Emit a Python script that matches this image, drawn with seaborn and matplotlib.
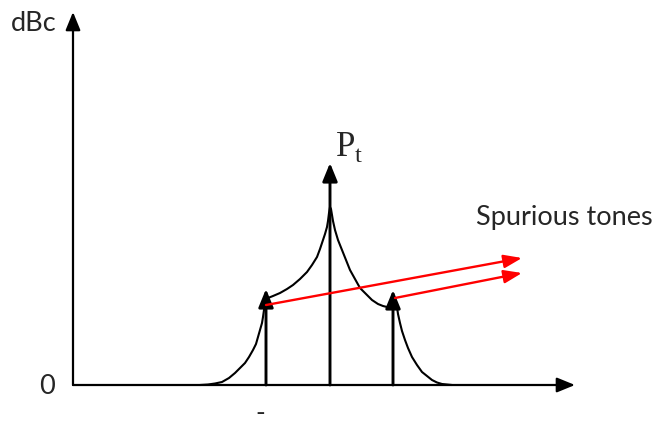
import matplotlib
matplotlib.use("Agg")
import matplotlib.pyplot as plt
import seaborn as sns
import pandas as pd

# schematic spectrum, x = frequency offset (arbitrary), h = level above 0 dBc (arbitrary)
curve_x = [127, 135, 142, 149, 156, 162, 167, 172, 176, 180, 183, 185, 187, 189, 190, 191, 192, 193,
           195, 200, 207, 214, 220, 227, 234, 239, 244, 247, 250, 252, 254, 255, 256, 257,
           258, 259, 260, 262, 265, 269, 273, 277, 282, 287, 293, 299, 305, 310, 314, 317, 320,
           322, 324, 325, 327, 329, 332, 335, 339, 344, 349, 354, 359, 364, 369, 379]
curve_h = [0, 0.5, 1.5, 3, 7, 12, 17, 22, 28, 35, 41, 48, 55, 62, 68, 75, 80, 84,
           87, 89, 92, 96, 100, 106, 113, 120, 128, 136, 145, 151, 158, 164, 172, 178,
           176, 170, 164, 155, 145, 135, 125, 115, 106, 97, 91, 85, 81, 79, 78, 77, 79,
           79, 78, 71, 62, 54, 45, 37, 28, 20, 13, 9, 5, 2.5, 1, 0]

tone_x = [193, 257, 320]
tone_h = [96, 222, 95]

spur_start_x = [193, 322]
spur_start_h = [80, 87]
spur_end_x = [449, 449]
spur_end_h = [127, 112]

x_axis_end = 502
y_axis_end = 373

sns.set_theme(style="white")
plt.rcParams['font.family'] = ['Lato', 'DejaVu Sans']

fig = plt.figure(figsize=(6.66, 4.25), dpi=100)
ax = fig.add_axes([0, 0, 1, 1])
ax.set_xlim(-73, 593)
ax.set_ylim(-40, 385)
ax.axis('off')

df = pd.DataFrame({'f': curve_x, 'level': curve_h})
sns.lineplot(data=df, x='f', y='level', sort=False, estimator=None,
             color='black', linewidth=1.5, ax=ax)

head = '-|>,head_length=1.1,head_width=0.45'

# axes arrows
ax.annotate('', xy=(x_axis_end, 0), xytext=(0, 0),
            arrowprops=dict(arrowstyle=head, mutation_scale=10, lw=1.6,
                            color='black', shrinkA=0, shrinkB=0))
ax.annotate('', xy=(0, y_axis_end), xytext=(0, 0),
            arrowprops=dict(arrowstyle=head, mutation_scale=10, lw=1.6,
                            color='black', shrinkA=0, shrinkB=0))

# tones
for tx, th in zip(tone_x, tone_h):
    ax.annotate('', xy=(tx, th), xytext=(tx, 0),
                arrowprops=dict(arrowstyle=head, mutation_scale=10, lw=2.1,
                                color='black', shrinkA=0, shrinkB=0))

# spurious pointers
for x0, h0, x1, h1 in zip(spur_start_x, spur_start_h, spur_end_x, spur_end_h):
    ax.annotate('', xy=(x1, h1), xytext=(x0, h0),
                arrowprops=dict(arrowstyle='-|>,head_length=1.1,head_width=0.4',
                                mutation_scale=10, lw=1.7, color='red',
                                shrinkA=0, shrinkB=0))

ax.text(-39, 362, 'dBc', fontsize=19.5, ha='center', va='center')
ax.text(-26, -2, '0', fontsize=19.5, ha='center', va='center')
ax.text(187, -29, '-', fontsize=19, ha='center', va='center')
ax.text(262, 238, r'P$_\mathregular{t}$', fontsize=25, ha='left', va='center',
        family='Liberation Serif')
ax.text(403, 168, 'Spurious tones', fontsize=19.5, ha='left', va='center')

plt.savefig('out.png', dpi=100)
